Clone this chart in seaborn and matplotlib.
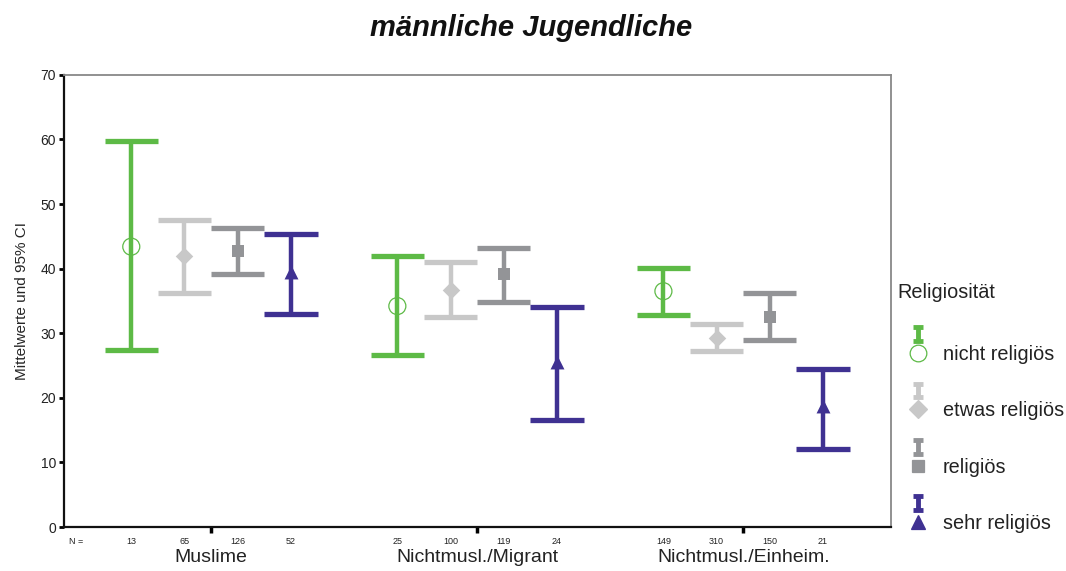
import matplotlib
matplotlib.use("Agg")
import matplotlib.pyplot as plt
import seaborn as sns
import pandas as pd
from matplotlib.legend_handler import HandlerBase
from matplotlib.lines import Line2D

# data
gruppen = ["Muslime", "Nichtmusl./Migrant", "Nichtmusl./Einheim."]
stufen = ["nicht religiös", "etwas religiös", "religiös", "sehr religiös"]

mittel = {
    "nicht religiös": [43.4, 34.2, 36.5],
    "etwas religiös": [41.9, 36.7, 29.3],
    "religiös":       [42.7, 39.1, 32.5],
    "sehr religiös":  [39.5, 25.6, 18.7],
}
ci_unten = {
    "nicht religiös": [27.4, 26.7, 32.8],
    "etwas religiös": [36.2, 32.5, 27.2],
    "religiös":       [39.1, 34.9, 28.9],
    "sehr religiös":  [33.0, 16.6, 12.1],
}
ci_oben = {
    "nicht religiös": [59.7, 42.0, 40.1],
    "etwas religiös": [47.6, 41.1, 31.5],
    "religiös":       [46.3, 43.2, 36.3],
    "sehr religiös":  [45.3, 34.0, 24.5],
}
n_werte = {
    "nicht religiös": [13, 25, 149],
    "etwas religiös": [65, 100, 310],
    "religiös":       [126, 119, 150],
    "sehr religiös":  [52, 24, 21],
}

farben = {"nicht religiös": "#5dba46", "etwas religiös": "#c8c8c8",
          "religiös": "#939497", "sehr religiös": "#3f3192"}
marker = {"nicht religiös": "o", "etwas religiös": "D",
          "religiös": "s", "sehr religiös": "^"}
msize = {"nicht religiös": 150, "etwas religiös": 80,
         "religiös": 65, "sehr religiös": 100}

offsets = [-0.3, -0.1, 0.1, 0.3]

rows = []
for k, st in enumerate(stufen):
    for g, gr in enumerate(gruppen):
        rows.append({"gruppe": gr, "stufe": st, "x": g + offsets[k],
                     "mittel": mittel[st][g], "lo": ci_unten[st][g],
                     "hi": ci_oben[st][g], "n": n_werte[st][g]})
df = pd.DataFrame(rows)

sns.set_style("white")
plt.rcParams["font.family"] = ["Liberation Sans", "DejaVu Sans"]

fig = plt.figure(figsize=(10.66, 5.71), dpi=100)
ax = fig.add_axes([0.060, 0.077, 0.776, 0.792])

for st in stufen:
    d = df[df["stufe"] == st]
    c = farben[st]
    ax.vlines(d["x"], d["lo"], d["hi"], color=c, lw=3.2, zorder=2)
    ax.hlines(d["lo"], d["x"] - 0.1, d["x"] + 0.1, color=c, lw=3.8, zorder=2)
    ax.hlines(d["hi"], d["x"] - 0.1, d["x"] + 0.1, color=c, lw=3.8, zorder=2)
    if st == "nicht religiös":
        sns.scatterplot(x=d["x"], y=d["mittel"], marker="o", s=msize[st],
                        facecolor="none", edgecolor=c, linewidth=0.9,
                        zorder=3, ax=ax, legend=False)
    else:
        sns.scatterplot(x=d["x"], y=d["mittel"], marker=marker[st],
                        s=msize[st], color=c, edgecolor=c, linewidth=0,
                        zorder=3, ax=ax, legend=False)

ax.set_xlim(-0.553, 2.556)
ax.set_ylim(0, 70)
ax.set_yticks(range(0, 71, 10))
ax.set_xticks(range(len(gruppen)))
ax.set_xticklabels(gruppen, fontsize=14)
ax.tick_params(axis="x", direction="out", length=4, width=2.5, pad=12,
               color="black", labelcolor="#222222", bottom=True)
ax.tick_params(axis="y", direction="out", length=3.6, width=2, pad=2,
               labelsize=10, color="black", labelcolor="#222222", left=True)
ax.set_xlabel("")
ax.set_ylabel("Mittelwerte und 95% CI", fontsize=11, labelpad=8)

for side in ["left", "bottom"]:
    ax.spines[side].set_color("#111111")
    ax.spines[side].set_linewidth(1.6)
for side in ["top", "right"]:
    ax.spines[side].set_color("#888888")
    ax.spines[side].set_linewidth(1.3)

# N labels below the axis
trans = ax.get_xaxis_transform()
ax.text(-0.533, -0.032, "N =", transform=trans, fontsize=6.5,
        ha="left", va="center", color="#222222")
for _, r in df.iterrows():
    ax.text(r["x"], -0.032, str(r["n"]), transform=trans, fontsize=6.5,
            ha="center", va="center", color="#222222")

fig.suptitle("männliche Jugendliche", fontsize=21, fontweight="bold",
             fontstyle="italic", x=0.498, y=0.975, color="#111111")


class CIHandler(HandlerBase):
    def create_artists(self, legend, orig_handle, xdescent, ydescent,
                       width, height, fontsize, trans):
        c = orig_handle.get_color()
        cx = width / 2 - xdescent
        cy = height / 2 - ydescent
        w = 0.26 * fontsize
        y0 = cy + 0.6 * fontsize
        y1 = cy + 1.3 * fontsize
        kw = dict(color=c, lw=3.5, solid_capstyle="butt", transform=trans)
        arts = [
            Line2D([cx, cx], [y0, y1], **kw),
            Line2D([cx - w, cx + w], [y0, y0], **kw),
            Line2D([cx - w, cx + w], [y1, y1], **kw),
            Line2D([cx], [cy], marker=orig_handle.get_marker(),
                   markersize=orig_handle.get_markersize(),
                   markerfacecolor=orig_handle.get_markerfacecolor(),
                   markeredgecolor=c, markeredgewidth=0.9,
                   linestyle="none", transform=trans),
        ]
        return arts


handles = []
for st in stufen:
    face = "none" if st == "nicht religiös" else farben[st]
    ms = {"nicht religiös": 12, "etwas religiös": 9,
          "religiös": 8, "sehr religiös": 10}[st]
    handles.append(Line2D([], [], color=farben[st], marker=marker[st],
                          markerfacecolor=face, markersize=ms, linestyle="none"))

fig.text(0.8415, 1 - 293 / 571, "Religiosität", fontsize=14.3,
         ha="left", va="center", color="#222222")

leg = fig.legend(handles, stufen, loc="upper left",
                 bbox_to_anchor=(0.8415, 1 - 345 / 571), frameon=False,
                 fontsize=14.3, handlelength=2.1, handletextpad=0.2,
                 labelspacing=1.88, borderpad=0, borderaxespad=0,
                 handler_map={Line2D: CIHandler()})
for t in leg.get_texts():
    t.set_color("#222222")

fig.savefig("out.png", dpi=100)
